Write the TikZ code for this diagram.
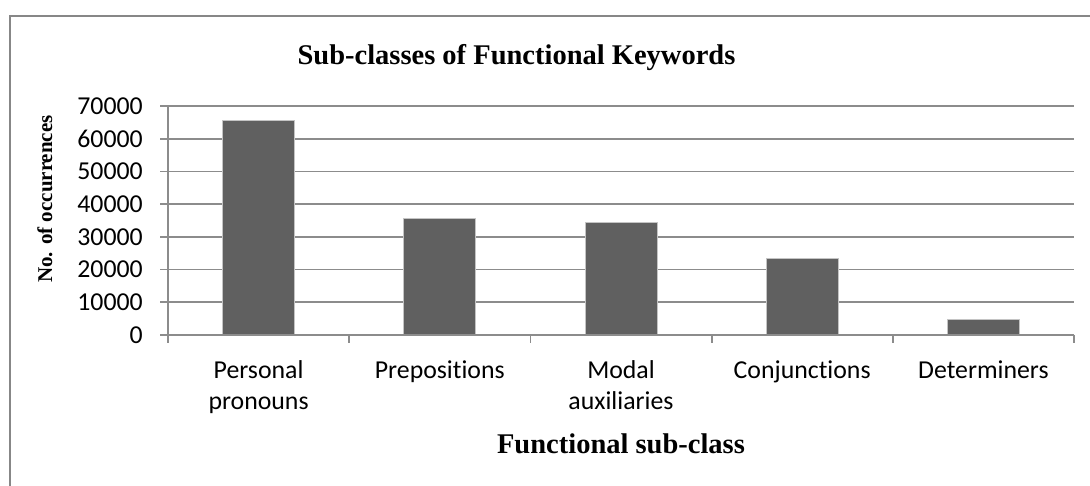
\documentclass[tikz,border=0pt]{standalone}
\usepackage{fontspec}
\setmainfont{Liberation Serif}
\newfontfamily\ticksfont[Ligatures=NoCommon]{Carlito}
\definecolor{barfill}{HTML}{606060}
\definecolor{barline}{HTML}{C4C4C4}
\definecolor{gridgray}{HTML}{8C8C8C}
\definecolor{framegray}{HTML}{878787}
\tikzset{
  gridline/.style={draw=gridgray, line width=1.8pt},
  bar/.style={fill=barfill, draw=barline, line width=0.8pt},
  ticklabel/.style={font=\ticksfont\fontsize{25.8}{31}\selectfont, inner sep=0pt},
  catlabel/.style={ticklabel, align=center, anchor=north},
  boldtitle/.style={font=\bfseries\fontsize{28.5}{34}\selectfont, inner sep=0pt},
}
\begin{document}
\begin{tikzpicture}[x=1pt,y=-1pt]
  \useasboundingbox[fill=white] (0,0) rectangle (1090,486);
  % outer frame (runs off the right and bottom edges)
  \draw[framegray, line width=2pt] (10,486) -- (10,16) -- (1090,16);

  % plot geometry: x from 168 to 1074, zero at y=335, 32.714 per 10000
  \def\yzero{335}
  \def\ystep{32.714}
  \def\catw{181.2}

  % horizontal gridlines and value labels
  \foreach \k in {1,...,7}{
    \pgfmathsetmacro{\yy}{\yzero-\k*\ystep}
    \draw[gridline] (160,\yy) -- (1074,\yy);
  }
  \foreach \k in {0,...,7}{
    \pgfmathsetmacro{\yy}{\yzero-\k*\ystep}
    \node[ticklabel, anchor=east] (ylab\k) at (143,\yy) {\ifnum\k=0 0\else\k0000\fi};
  }

  % bars
  \foreach \i/\v in {0/6.55, 1/3.55, 2/3.43, 3/2.34, 4/0.49}{
    \pgfmathsetmacro{\cx}{168+(\i+0.5)*\catw}
    \pgfmathsetmacro{\top}{\yzero-\v*\ystep}
    \draw[bar] (\cx-36,\yzero) rectangle (\cx+36,\top);
  }

  % axes and category ticks
  \draw[gridline] (168,106) -- (168,\yzero);
  \draw[gridline] (160,\yzero) -- (1074,\yzero);
  \foreach \i in {0,...,5}{
    \pgfmathsetmacro{\tx}{168+\i*\catw}
    \draw[gridline] (\tx,\yzero) -- (\tx,343);
  }

  % category labels
  \node[catlabel] (c0) at (258.6,356.3) {\strut Personal\\pronouns};
  \node[catlabel] (c1) at (439.8,356.3) {\strut Prepositions};
  \node[catlabel] (c2) at (621.0,356.3) {\strut Modal\\auxiliaries};
  \node[catlabel] (c3) at (802.2,356.3) {\strut Conjunctions};
  \node[catlabel] (c4) at (983.4,356.3) {\strut Determiners};

  % titles
  \node[boldtitle, anchor=base] (title) at (516.5,65) {Sub-classes of Functional Keywords};
  \node[boldtitle, anchor=base] (xtitle) at (621,453) {Functional sub-class};
  \node[inner sep=0pt, rotate=90, font=\bfseries\fontsize{21}{25}\selectfont] (ytitle) at (45,199) {No. of occurrences};
\end{tikzpicture}
\end{document}
